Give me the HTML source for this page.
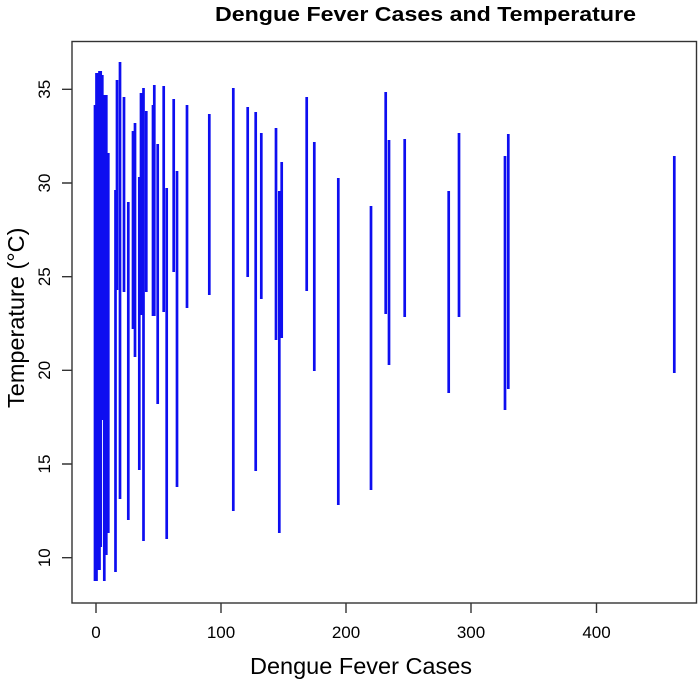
<!DOCTYPE html>
<html>
<head>
<meta charset="utf-8">
<style>
html,body{margin:0;padding:0;background:#fff;}
svg{display:block;}
text{font-family:"Liberation Sans",Arial,sans-serif;fill:#000;}
</style>
</head>
<body>
<svg width="698" height="682" viewBox="0 0 698 682" xmlns="http://www.w3.org/2000/svg">
<rect x="0" y="0" width="698" height="682" fill="#fff"/>
<text x="215" y="21" font-size="20" font-weight="bold" textLength="421" lengthAdjust="spacingAndGlyphs">Dengue Fever Cases and Temperature</text>
<path fill="none" stroke="#0e0ef0" stroke-width="2.7" d="M95 105V581 M96.5 73V581 M98 73V570 M99.5 71V570 M100.7 71V547 M102.3 75V420 M104.3 95V581 M106.3 95V555 M108.3 153V533 M115.5 190V572 M117 80V290 M120 62V499 M124 97V292 M128.3 202V520 M133 131V329 M135 123V357 M139.3 177V470 M141 93V315 M143.5 88V541 M146.3 111V292 M153 105V316 M154.3 85V316 M157.7 144V404 M163.7 86V312 M166.7 188V539 M173.7 99V272 M177 171V487 M187 105V308 M209.3 114V295 M233.3 88V511 M247.7 107V277 M255.7 112V471 M261.3 133V299 M276 128V340 M279.3 191V533 M281.7 162V338 M306.7 97V291 M314.3 142V371 M338.3 178V505 M371 206V490 M385.7 92V314 M389 140V365 M404.7 139V317 M448.7 191V393 M459 133V317 M505 156V410 M508.3 134V389 M674.3 156V373"/>
<rect x="72" y="41.5" width="624.5" height="561.5" fill="none" stroke="#333" stroke-width="1.4"/>
<path fill="none" stroke="#333" stroke-width="1.4" d="M96 603V613 M221 603V613 M346 603V613 M471 603V613 M596.5 603V613 M62 557.7H72 M62 464H72 M62 370.3H72 M62 276.7H72 M62 183H72 M62 89.3H72"/>
<g font-size="17" text-anchor="middle">
<text x="96" y="638">0</text>
<text x="221" y="638">100</text>
<text x="346" y="638">200</text>
<text x="471" y="638">300</text>
<text x="596.5" y="638">400</text>
<text transform="translate(50,557.7) rotate(-90)">10</text>
<text transform="translate(50,464) rotate(-90)">15</text>
<text transform="translate(50,370.3) rotate(-90)">20</text>
<text transform="translate(50,276.7) rotate(-90)">25</text>
<text transform="translate(50,183) rotate(-90)">30</text>
<text transform="translate(50,89.3) rotate(-90)">35</text>
</g>
<text x="250" y="674" font-size="23.5">Dengue Fever Cases</text>
<text transform="translate(24,408) rotate(-90)" font-size="23.5">Temperature (°C)</text>
</svg>
</body>
</html>
